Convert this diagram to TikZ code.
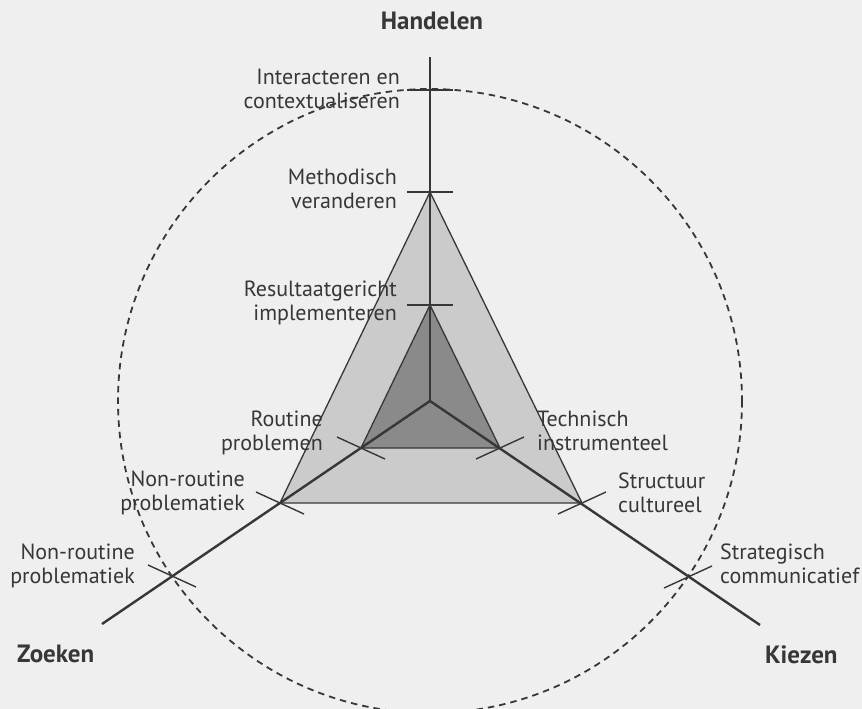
\documentclass[tikz,border=0pt]{standalone}
\usepackage{fontspec}
\setmainfont{PT Sans}
\definecolor{bg}{RGB}{239,239,239}
\definecolor{outerfill}{RGB}{203,203,203}
\definecolor{innerfill}{RGB}{138,138,138}
\definecolor{ink}{RGB}{55,55,55}
\definecolor{txt}{RGB}{55,55,55}
\begin{document}
\begin{tikzpicture}[x=1pt,y=-1pt,
  lbl/.style={font=\fontsize{22}{24}\selectfont, text=txt, inner sep=0pt},
  lblr/.style={lbl, align=right, anchor=base east},
  lbll/.style={lbl, align=left, anchor=base west},
  axname/.style={font=\fontsize{25}{28}\selectfont\bfseries, text=txt, inner sep=0pt, anchor=base west},
  vaxis/.style={draw=ink, line width=1.4pt},
  daxis/.style={draw=ink, line width=2.4pt},
  tickmark/.style={draw=ink, line width=1.4pt},
  triedge/.style={draw=ink, line width=1.3pt, line join=miter},
  dashcircle/.style={draw=ink, line width=1.8pt, dash pattern=on 6.5pt off 5pt}]
\useasboundingbox (0,0) rectangle (862,709);
\fill[bg] (0,0) rectangle (862,709);
% key points
\coordinate (O) at (430,401);
\coordinate (T) at (430,57);
\coordinate (L) at (102,624);
\coordinate (R) at (760,625);
\coordinate (A1) at (430,192);
\coordinate (B1) at (280,503);
\coordinate (C1) at (582,503);
\coordinate (A2) at (430,305);
\coordinate (B2) at (361,448);
\coordinate (C2) at (500,448);
\coordinate (A0) at (430,90);
\coordinate (B0) at (172,576);
\coordinate (C0) at (688,577);
% triangles
\filldraw[fill=outerfill, triedge] (A1) -- (B1) -- (C1) -- cycle;
\filldraw[fill=innerfill, triedge] (A2) -- (B2) -- (C2) -- cycle;
% axes
\draw[vaxis] (O) -- (T);
\draw[daxis] (O) -- (L);
\draw[daxis] (O) -- (R);
% ticks vertical axis
\foreach \p in {A0,A1,A2} \draw[tickmark] (\p) ++(-23,0) -- ++(46,0);
% ticks left axis
\foreach \p in {B0,B1,B2} \draw[tickmark] (\p) ++(-24,-11) -- ++(48,22);
% ticks right axis
\foreach \p in {C0,C1,C2} \draw[tickmark] (\p) ++(-24,11) -- ++(48,-22);
% dashed circle
\draw[dashcircle] (O) circle[radius=312];
% labels
\node[axname, anchor=base] (handelen) at (432,30) {Handelen};
\node[axname] (zoeken) at (17,662) {Zoeken};
\node[axname] (kiezen) at (765,663) {Kiezen};
\node[lblr] (l1) at (400,108) {Interacteren en\\contextualiseren};
\node[lblr] (l2) at (397,208) {Methodisch\\veranderen};
\node[lblr] (l3) at (397,320) {Resultaatgericht\\implementeren};
\node[lblr] (l4) at (323,450) {Routine\\problemen};
\node[lblr] (l5) at (245,510) {Non-routine\\problematiek};
\node[lblr] (l6) at (135,583) {Non-routine\\problematiek};
\node[lbll] (r1) at (537,450) {Technisch\\instrumenteel};
\node[lbll] (r2) at (618,512) {Structuur\\cultureel};
\node[lbll] (r3) at (720,583) {Strategisch\\communicatief};
\end{tikzpicture}
\end{document}
